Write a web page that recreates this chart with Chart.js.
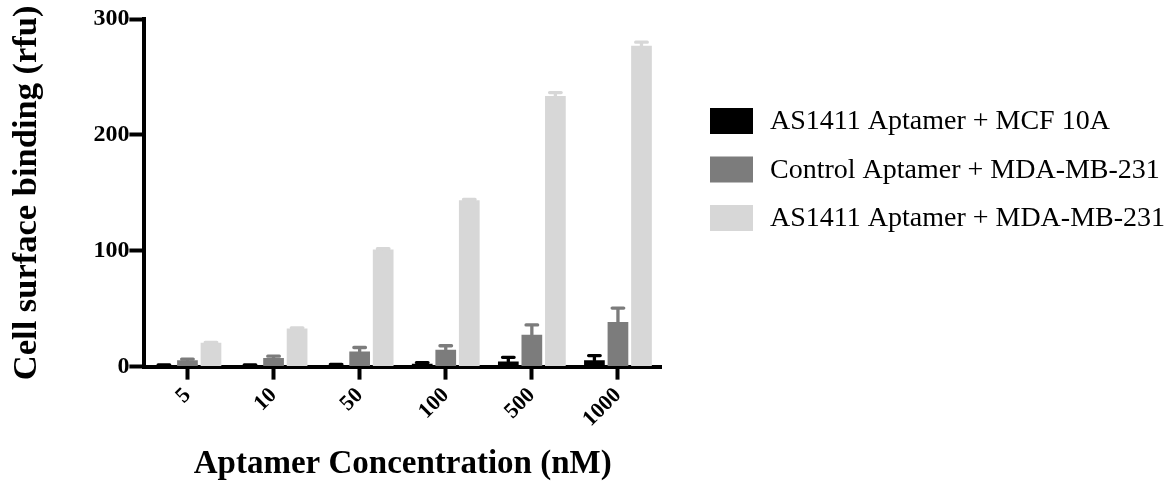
<!DOCTYPE html>
<html>
<head>
<meta charset="utf-8">
<script src="https://cdn.jsdelivr.net/npm/chart.js"></script>
<style>
    html, body { margin: 0; padding: 0; background: #fff; }
    #chart-container { width: 1169px; height: 484px; position: relative; }
</style>
</head>
<body>
<div id="chart-container"><canvas id="bindingChart"></canvas></div>
<script>
// Values (rfu)
const concentrations = ["5", "10", "50", "100", "500", "1000"];
const mcf10aValues = [1, 1, 1.5, 2.5, 4.5, 5.5];
const mcf10aErrors = [0.5, 0.5, 0.5, 1, 3.5, 4];
const controlValues = [5.5, 7.5, 13, 14.5, 27.5, 38.5];
const controlErrors = [1, 1.5, 3.5, 3.5, 8.5, 12];
const as1411Values = [20.5, 33, 101, 143.5, 233.5, 277];
const as1411Errors = [0.5, 0.5, 0.8, 0.8, 3, 3];

const serif = "'Liberation Serif', 'Times New Roman', serif";

// Upper error bars, drawn from the data through the y scale
const errorBars = {
    id: "errorBars",
    afterDatasetsDraw(chart) {
        const ctx = chart.ctx;
        const yScale = chart.scales.y;
        chart.data.datasets.forEach((ds, i) => {
            const meta = chart.getDatasetMeta(i);
            ctx.save();
            ctx.strokeStyle = ds.backgroundColor;
            ctx.lineWidth = 3.3;
            ctx.lineCap = "round";
            meta.data.forEach((bar, j) => {
                const top = yScale.getPixelForValue(ds.data[j] + ds.errors[j]);
                const capHalf = bar.width * 0.28;
                ctx.beginPath();
                ctx.moveTo(bar.x, bar.y);
                ctx.lineTo(bar.x, top);
                ctx.moveTo(bar.x - capHalf, top);
                ctx.lineTo(bar.x + capHalf, top);
                ctx.stroke();
            });
            ctx.restore();
        });
    }
};

// Legend to the right of the plot (built-in legend can't get this wide)
const sideLegend = {
    id: "sideLegend",
    afterDraw(chart) {
        const ctx = chart.ctx;
        const x0 = chart.chartArea.right + 49;
        ctx.save();
        ctx.font = "28px " + serif;
        ctx.textBaseline = "middle";
        chart.data.datasets.forEach((ds, i) => {
            const cy = 121 + i * 48.5;
            ctx.fillStyle = ds.backgroundColor;
            ctx.fillRect(x0, cy - 13, 43, 26);
            ctx.fillStyle = "#000";
            ctx.fillText(ds.label, x0 + 60, cy + 1);
        });
        ctx.restore();
    }
};

document.addEventListener("DOMContentLoaded", () => {
    const canvas = document.getElementById("bindingChart");
    new Chart(canvas.getContext("2d"), {
        type: "bar",
        data: {
            labels: concentrations,
            datasets: [
                { label: "AS1411 Aptamer + MCF 10A", data: mcf10aValues, errors: mcf10aErrors, backgroundColor: "#000000", borderWidth: 0 },
                { label: "Control Aptamer + MDA-MB-231", data: controlValues, errors: controlErrors, backgroundColor: "#7c7c7c", borderWidth: 0 },
                { label: "AS1411 Aptamer + MDA-MB-231", data: as1411Values, errors: as1411Errors, backgroundColor: "#d7d7d7", borderWidth: 0 }
            ]
        },
        options: {
            responsive: true,
            maintainAspectRatio: false,
            animation: false,
            datasets: { bar: { categoryPercentage: 0.82, barPercentage: 0.88 } },
            layout: { padding: { top: 19, left: 6, bottom: 0, right: 508 } },
            scales: {
                x: {
                    grid: { display: true, offset: false, drawOnChartArea: false, tickLength: 13, tickWidth: 4, tickColor: "#000" },
                    border: { display: true, width: 4, color: "#000" },
                    ticks: { color: "#000", font: { family: serif, size: 22, weight: "bold" }, minRotation: 45, maxRotation: 45, padding: 3 },
                    title: { display: true, text: "Aptamer Concentration (nM)", color: "#000", font: { family: serif, size: 33, weight: "bold" }, padding: { top: 9, bottom: 0 } }
                },
                y: {
                    min: 0,
                    max: 300,
                    grid: { display: true, drawOnChartArea: false, tickLength: 15, tickWidth: 4, tickColor: "#000" },
                    border: { display: true, width: 4, color: "#000" },
                    ticks: { stepSize: 100, color: "#000", font: { family: serif, size: 24, weight: "bold" }, padding: 0 },
                    title: { display: true, text: "Cell surface binding (rfu)", color: "#000", font: { family: serif, size: 34.5, weight: "bold" }, padding: { top: 0, bottom: 46 } }
                }
            },
            plugins: {
                legend: { display: false },
                tooltip: { enabled: false }
            }
        },
        plugins: [errorBars, sideLegend]
    });
});
</script>
</body>
</html>
